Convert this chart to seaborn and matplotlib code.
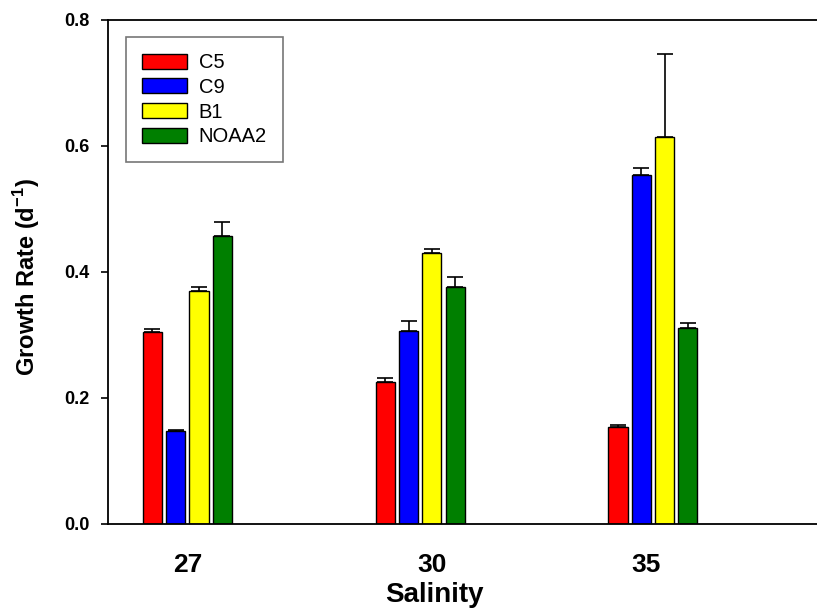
import matplotlib
matplotlib.use("Agg")
import matplotlib.pyplot as plt
import seaborn as sns
import pandas as pd
import numpy as np

salinity = ["27", "30", "35"]
strains = ["C5", "C9", "B1", "NOAA2"]
means = {
    "C5":    [0.305, 0.225, 0.154],
    "C9":    [0.148, 0.306, 0.554],
    "B1":    [0.370, 0.430, 0.614],
    "NOAA2": [0.457, 0.376, 0.311],
}
errors = {
    "C5":    [0.005, 0.007, 0.003],
    "C9":    [0.001, 0.016, 0.011],
    "B1":    [0.006, 0.006, 0.132],
    "NOAA2": [0.022, 0.016, 0.008],
}
colors = ["#ff0000", "#0000ff", "#ffff00", "#007f00"]
yticks = [0.0, 0.2, 0.4, 0.6, 0.8]

rows = []
for s in strains:
    for i, sal in enumerate(salinity):
        rows.append({"Salinity": sal, "Strain": s, "Rate": means[s][i]})
df = pd.DataFrame(rows)

sns.set_style("ticks")
plt.rcParams["font.family"] = ["Liberation Sans", "DejaVu Sans"]
plt.rcParams["mathtext.fontset"] = "custom"
plt.rcParams["mathtext.bf"] = "Liberation Sans:bold"
plt.rcParams["mathtext.rm"] = "Liberation Sans"
for k in ["text.color", "axes.labelcolor", "xtick.color", "ytick.color", "axes.edgecolor"]:
    plt.rcParams[k] = "black"

fig = plt.figure(figsize=(8.17, 6.09), dpi=100)
ax = fig.add_axes([108/817, 85/609, 1 - 108/817 + 0.01, (524-20)/609])

sns.barplot(data=df, x="Salinity", y="Rate", hue="Strain", order=salinity,
            hue_order=strains, palette=colors, saturation=1, width=0.4, gap=0.18,
            edgecolor="black", linewidth=1.0, errorbar=None, ax=ax, legend=True)

for cont, s in zip(ax.containers, strains):
    xs = [b.get_x() + b.get_width() / 2 for b in cont]
    hs = [b.get_height() for b in cont]
    ax.errorbar(xs, hs, yerr=[np.zeros(len(hs)), errors[s]], fmt="none",
                ecolor="black", elinewidth=1.2, capsize=5.5, capthick=1.2, zorder=3)

ax.set_ylim(0, 0.8)
ax.set_xlim(-0.341, 2.74)
ax.set_yticks(yticks)
ax.set_yticklabels([f"{v:.1f}" for v in yticks], fontsize=13, fontweight="bold")
ax.tick_params(axis="y", direction="out", length=5, width=1.2, pad=8)
ax.set_xticks([0.0, 1.05, 1.97])
ax.set_xticklabels(salinity, fontsize=19, fontweight="bold")
ax.tick_params(axis="x", length=0, pad=21)
ax.set_xlabel("Salinity", fontsize=20, fontweight="bold", va="bottom")
ax.xaxis.set_label_coords(0.4556, -0.1675)
ax.set_ylabel("Growth Rate (d$^{\\mathbf{-1}}$)", fontsize=17, fontweight="bold")
ax.yaxis.set_label_coords(-0.0917, 0.489)

for sp in ["left", "bottom", "top"]:
    ax.spines[sp].set_linewidth(1.3)
    ax.spines[sp].set_color("black")
ax.spines["right"].set_visible(False)

leg = ax.legend(loc="upper left", bbox_to_anchor=(0.0254, 0.966), fontsize=14.5,
                frameon=True, fancybox=False, edgecolor="#555555",
                handlelength=2.2, handleheight=0.75, labelspacing=0.28,
                borderpad=0.8, handletextpad=0.6, borderaxespad=0)
leg.get_frame().set_linewidth(1.2)
for h in leg.legend_handles:
    h.set_edgecolor("black")

fig.savefig("out.png", dpi=100)
